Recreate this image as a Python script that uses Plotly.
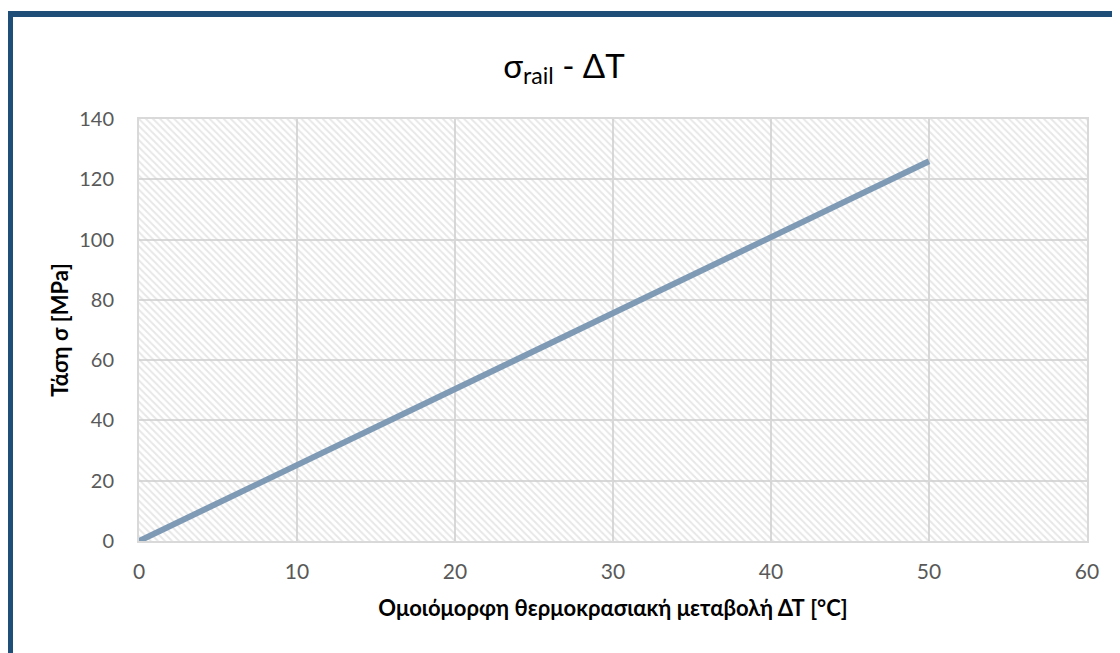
import plotly.graph_objects as go

# Data
delta_T = [0, 10, 20, 30, 40, 50]
sigma_rail = [0, 25.2, 50.4, 75.6, 100.8, 126.0]

x_ticks = [0, 10, 20, 30, 40, 50, 60]
y_ticks = [0, 20, 40, 60, 80, 100, 120, 140]
x_range = [0, 60]
y_range = [0, 140]

title_text = "σ<sub>rail</sub> - ΔT"
x_title = "Ομοιόμορφη θερμοκρασιακή μεταβολή ΔΤ [°C]"
y_title = "Τάση σ [MPa]"

FONT = "Lato"

# the page body adds an 8px offset; figure is laid out relative to that
W, H = 1112, 645
L, T = 131, 111
PW, PH = 948, 422

fig = go.Figure()

# hatched plot-area background
fig.add_trace(go.Scatter(
    x=[x_range[0], x_range[1], x_range[1], x_range[0], x_range[0]],
    y=[y_range[0], y_range[0], y_range[1], y_range[1], y_range[0]],
    mode="lines", line=dict(width=0), fill="toself",
    fillcolor="rgba(0,0,0,0)",
    fillpattern=dict(shape="\\", fgcolor="#cfcfcf", bgcolor="rgba(0,0,0,0)",
                     size=5, solidity=0.38, fillmode="overlay"),
    hoverinfo="skip", showlegend=False,
))

fig.add_trace(go.Scatter(
    x=delta_T, y=sigma_rail, mode="lines",
    line=dict(color="#7F9AB5", width=6),
    showlegend=False,
))

fig.update_layout(
    width=W, height=H,
    margin=dict(l=L, r=W - L - PW, t=T, b=H - T - PH),
    paper_bgcolor="white", plot_bgcolor="white",
    font=dict(family=FONT, color="#595959"),
    title=dict(text=title_text, x=(564 - 8) / W, xanchor="center",
               y=1 - (66 - 8) / H, yanchor="middle",
               font=dict(family=FONT, size=33, color="#000000")),
    xaxis=dict(range=x_range, tickvals=x_ticks, showgrid=True, gridcolor="#d9d9d9",
               gridwidth=2, zeroline=False, showline=True, linecolor="#d9d9d9",
               linewidth=2, mirror=True, ticks="", tickfont=dict(size=21, color="#595959"),
               ticklabelstandoff=11,
               title=dict(text="<b>" + x_title + "</b>", standoff=18,
                          font=dict(size=22, color="#000000"))),
    yaxis=dict(range=y_range, tickvals=y_ticks, showgrid=True, gridcolor="#d9d9d9",
               gridwidth=2, zeroline=False, showline=True, linecolor="#d9d9d9",
               linewidth=2, mirror=True, ticks="", tickfont=dict(size=20, color="#595959"),
               ticklabelstandoff=19,
               title=dict(text="<b>" + y_title + "</b>", standoff=4,
                          font=dict(size=22, color="#000000"))),
)

# dark blue frame (left and top edges visible, others off-canvas)
fig.add_shape(type="rect", xref="paper", yref="paper",
              x0=(2 - L) / PW, x1=(1140 - L) / PW,
              y0=(T + PH - 680) / PH, y1=(T + PH - 6) / PH,
              line=dict(color="#1F4E79", width=6), fillcolor="rgba(0,0,0,0)",
              layer="above")

fig.write_html("out.html")
